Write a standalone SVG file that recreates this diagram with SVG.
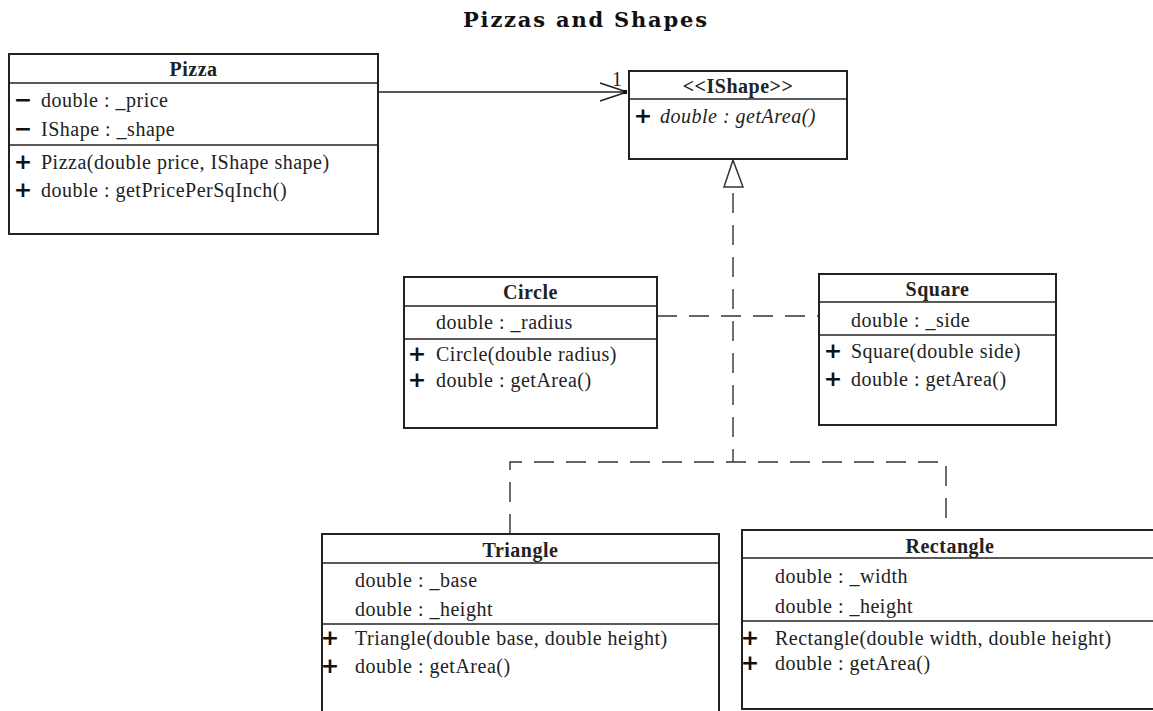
<svg xmlns="http://www.w3.org/2000/svg" width="1153" height="711" viewBox="0 0 1153 711">
<style>
.box{fill:#fff;stroke:#222;stroke-width:2}
.sep{stroke:#222;stroke-width:1.6}
.t{font-family:"Liberation Serif","Times New Roman",serif;font-size:20px;fill:#222;letter-spacing:0.5px}
.h{font-family:"Liberation Serif","Times New Roman",serif;font-size:20px;font-weight:bold;fill:#222;text-anchor:middle;letter-spacing:0.5px}
.i{font-style:italic}
.v{font-family:"DejaVu Sans",sans-serif;font-size:22px;font-weight:bold;fill:#111;text-anchor:middle}
.dash{fill:none;stroke:#333;stroke-width:1.4;stroke-dasharray:20 12}
.solid{fill:none;stroke:#222;stroke-width:1.5}
</style>
<rect width="1153" height="711" fill="#fff"/>
<text x="585" y="27" text-anchor="middle" textLength="244" lengthAdjust="spacing" style="font-family:'DejaVu Serif',serif;font-size:21px;font-weight:bold;fill:#111">Pizzas and Shapes</text>

<g id="connectors">
  <line class="solid" x1="378" y1="92" x2="627" y2="92"/>
  <line class="solid" x1="600" y1="83" x2="627" y2="92"/>
  <line class="solid" x1="600" y1="101" x2="627" y2="92"/>
  <rect x="623" y="90" width="4" height="4" fill="#111"/>
  <text class="t" x="612" y="86" style="font-size:20px">1</text>
  <polygon points="733,160 724,187 743,187" fill="#fff" stroke="#333" stroke-width="1.5"/>
  <line class="dash" x1="733" y1="193" x2="733" y2="462"/>
  <line class="dash" x1="657" y1="316" x2="819" y2="316"/>
  <polyline class="dash" points="510,534 510,462 946,462 946,530"/>
</g>

<g id="pizza">
  <rect class="box" x="9" y="54" width="369" height="180"/>
  <line class="sep" x1="9" y1="83" x2="378" y2="83"/>
  <line class="sep" x1="9" y1="145" x2="378" y2="145"/>
  <text class="h" x="193.5" y="76">Pizza</text>
  <text class="v" x="23" y="107">−</text><text class="t" x="41" y="107">double : _price</text>
  <text class="v" x="23" y="136">−</text><text class="t" x="41" y="136">IShape : _shape</text>
  <text class="v" x="23" y="169">+</text><text class="t" x="41" y="169">Pizza(double price, IShape shape)</text>
  <text class="v" x="23" y="197">+</text><text class="t" x="41" y="197">double : getPricePerSqInch()</text>
</g>

<g id="ishape">
  <rect class="box" x="629" y="71" width="218" height="88"/>
  <line class="sep" x1="629" y1="99" x2="847" y2="99"/>
  <text class="h" x="738" y="93">&lt;&lt;IShape&gt;&gt;</text>
  <text class="v" x="643" y="123">+</text><text class="t i" x="660" y="123">double : getArea()</text>
</g>

<g id="circle">
  <rect class="box" x="404" y="277" width="253" height="151"/>
  <line class="sep" x1="404" y1="306" x2="657" y2="306"/>
  <line class="sep" x1="404" y1="339" x2="657" y2="339"/>
  <text class="h" x="530.5" y="299">Circle</text>
  <text class="t" x="436" y="329">double : _radius</text>
  <text class="v" x="417" y="361">+</text><text class="t" x="436" y="361">Circle(double radius)</text>
  <text class="v" x="417" y="387">+</text><text class="t" x="436" y="387">double : getArea()</text>
</g>

<g id="square">
  <rect class="box" x="819" y="274" width="237" height="151"/>
  <line class="sep" x1="819" y1="302" x2="1056" y2="302"/>
  <line class="sep" x1="819" y1="335" x2="1056" y2="335"/>
  <text class="h" x="937.5" y="296">Square</text>
  <text class="t" x="851" y="327">double : _side</text>
  <text class="v" x="833" y="358">+</text><text class="t" x="851" y="358">Square(double side)</text>
  <text class="v" x="833" y="386">+</text><text class="t" x="851" y="386">double : getArea()</text>
</g>

<g id="triangle">
  <rect class="box" x="322" y="534" width="397" height="200"/>
  <line class="sep" x1="322" y1="563" x2="719" y2="563"/>
  <line class="sep" x1="322" y1="624" x2="719" y2="624"/>
  <text class="h" x="520.5" y="557">Triangle</text>
  <text class="t" x="355" y="587">double : _base</text>
  <text class="t" x="355" y="616">double : _height</text>
  <text class="v" x="330" y="645">+</text><text class="t" x="355" y="645">Triangle(double base, double height)</text>
  <text class="v" x="330" y="673">+</text><text class="t" x="355" y="673">double : getArea()</text>
</g>

<g id="rectangle">
  <rect class="box" x="742" y="530" width="420" height="179"/>
  <line class="sep" x1="742" y1="558" x2="1162" y2="558"/>
  <line class="sep" x1="742" y1="621" x2="1162" y2="621"/>
  <text class="h" x="950" y="553">Rectangle</text>
  <text class="t" x="775" y="583">double : _width</text>
  <text class="t" x="775" y="613">double : _height</text>
  <text class="v" x="750" y="645">+</text><text class="t" x="775" y="645">Rectangle(double width, double height)</text>
  <text class="v" x="750" y="670">+</text><text class="t" x="775" y="670">double : getArea()</text>
</g>
</svg>
